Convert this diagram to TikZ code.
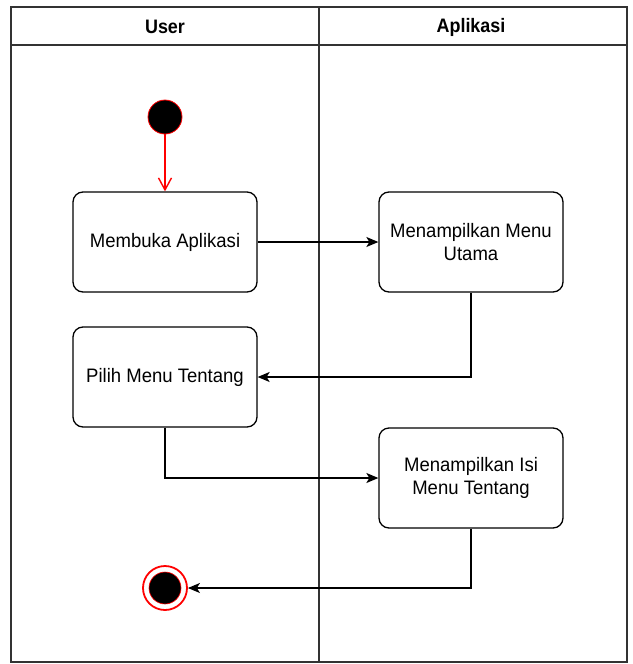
\documentclass[tikz,border=0pt]{standalone}
\usepackage{fontspec}
\setmainfont{Liberation Sans}
\usetikzlibrary{arrows.meta,calc}
\newcommand{\narrowtext}[1]{\scalebox{0.95}[1]{#1}}
\begin{document}
\begin{tikzpicture}[x=1pt,y=-1pt,
  lane/.style={draw=black!80,line width=1.6pt},
  actbox/.style={draw=black,line width=1.3pt,rounded corners=10pt,fill=white,
    minimum width=184pt,minimum height=100pt,align=center,
    font=\fontsize{19.5}{23}\selectfont},
  flow/.style={draw=black,line width=1.3pt,-{Stealth[length=12pt,width=10pt,inset=3pt]}},
  head/.style={font=\fontsize{19.5}{23}\selectfont\bfseries}]
\useasboundingbox (0,0) rectangle (632,664);
% swimlanes
\draw[lane] (11,7) rectangle (627,662);
\draw[lane] (319,7) -- (319,662);
\draw[lane] (11,45) -- (627,45);
\node[head] (hu) at (165,27) {\scalebox{0.92}[1]{User}};
\node[head] (ha) at (471,27) {\scalebox{0.92}[1]{Aplikasi}};
% initial and final states
\node[circle,fill=black,draw=red,line width=0.8pt,minimum size=34pt,inner sep=0pt] (start) at (165,117) {};
\node[circle,fill=white,draw=red,line width=1.8pt,minimum size=44pt,inner sep=0pt] (endo) at (165,588) {};
\node[circle,fill=black,draw=red,line width=0.6pt,minimum size=32pt,inner sep=0pt] (endi) at (165,588) {};
% activities
\node[actbox] (b1) at (165,242) {\narrowtext{Membuka Aplikasi}};
\node[actbox] (b2) at (471,242) {\narrowtext{Menampilkan Menu}\\\narrowtext{Utama}};
\node[actbox] (b3) at (165,377) {\narrowtext{Pilih Menu Tentang}};
\node[actbox] (b4) at (471,478) {\narrowtext{Menampilkan Isi}\\\narrowtext{Menu Tentang}};
% transitions
\draw[red,line width=1.4pt,-{Straight Barb[length=12pt,width=13pt,line width=1.4pt]}] (start) -- (b1);
\draw[flow] (b1) -- (b2);
\draw[flow] (b2.south) |- (b3.east);
\draw[flow] (b3.south) |- (b4.west);
\draw[flow] (b4.south) |- (endo.east);
\end{tikzpicture}
\end{document}
